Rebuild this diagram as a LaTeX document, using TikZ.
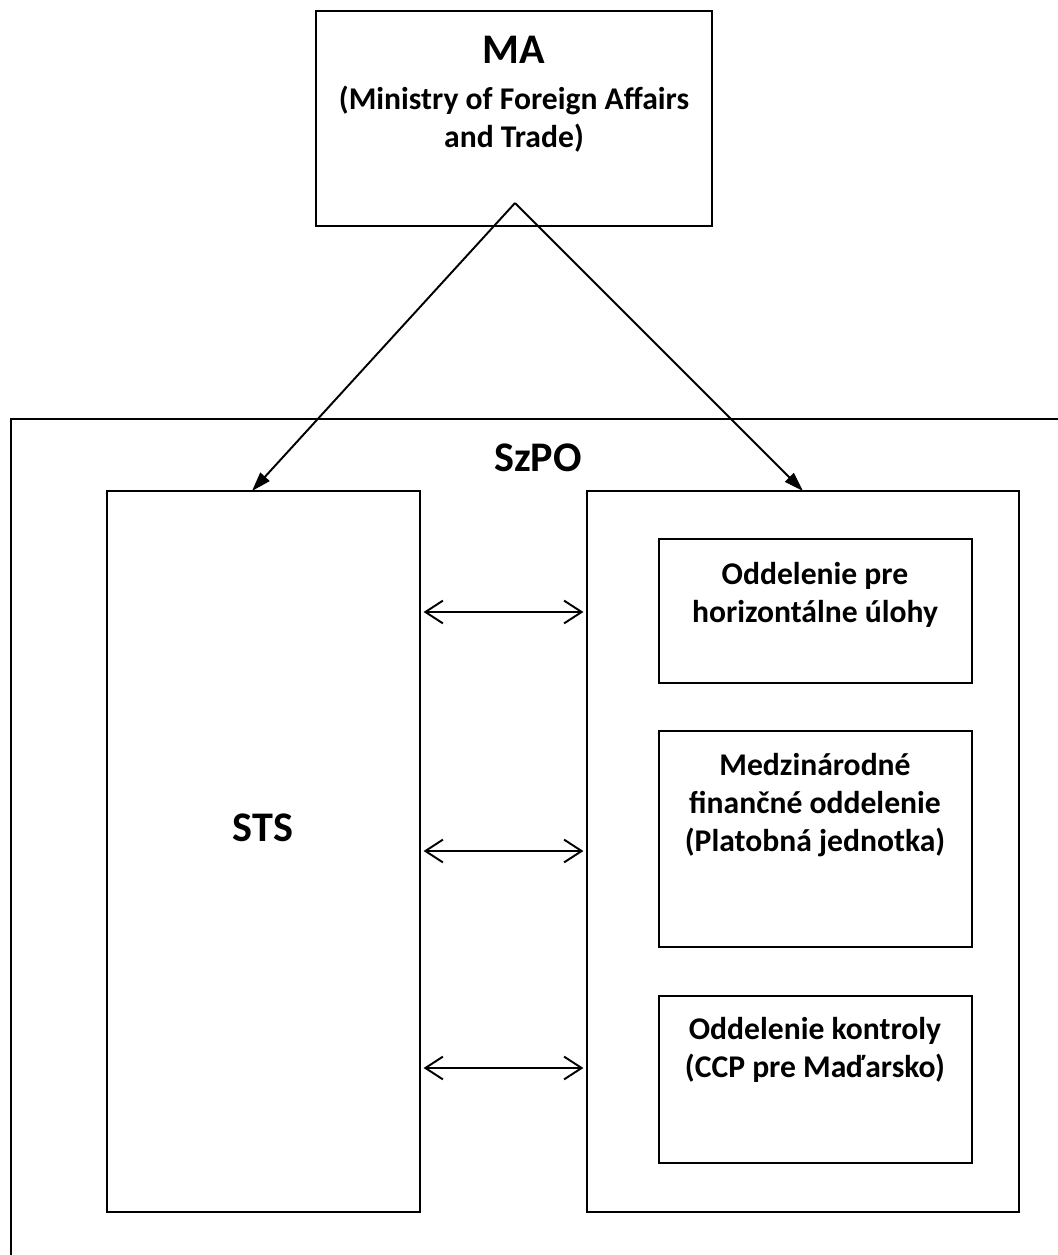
\documentclass[tikz,border=0pt]{standalone}
\usepackage{fontspec}
\setmainfont{Carlito}
\usetikzlibrary{arrows.meta,fit}

\begin{document}
\begin{tikzpicture}[x={(0.02cm,0)}, y={(0,-0.02cm)},
    box/.style={draw, line width=1.1pt, inner sep=0pt},
    bigtext/.style={font=\fontsize{24}{28}\selectfont\bfseries},
    smalltext/.style={font=\fontsize{18}{21.6}\selectfont\bfseries, align=center},
    down/.style={line width=1.1pt, -{Triangle[length=11pt,width=7pt]}},
    both/.style={line width=1.1pt, {Straight Barb[length=10pt,width=13pt]}-{Straight Barb[length=10pt,width=13pt]},
        shorten <=1.5pt, shorten >=1.5pt}]

    % Fix the size of the picture
    \useasboundingbox (0,0) rectangle (1058,1255);
    \clip (0,0) rectangle (1058,1255);

    % Box of the ministry at the top
    \node[box, fit={(316,11) (712,226)}] (ma) {};
    \node[bigtext] (maname) at (514,50) {MA};
    \node[smalltext] (mafull) at (514,119) {(Ministry of Foreign Affairs\\and Trade)};

    % Outer box, cut by the right and bottom edges
    \node[box, fit={(11,419) (1120,1320)}] (szpo) {};
    \node[bigtext] (szponame) at (538,458) {SzPO};

    % STS box on the left
    \node[box, fit={(107,491) (420,1212)}] (sts) {};
    \node[bigtext] (stsname) at (263,828) {STS};

    % Box of the departments on the right
    \node[box, fit={(587,491) (1019,1212)}] (org) {};

    % The three departments
    \node[box, fit={(659,539) (972,683)}] (dept1) {};
    \node[smalltext] (dept1name) at (815,595) {Oddelenie pre\\horizontálne úlohy};

    \node[box, fit={(659,731) (972,947)}] (dept2) {};
    \node[smalltext] (dept2name) at (815,805) {Medzinárodné\\finančné oddelenie\\(Platobná jednotka)};

    \node[box, fit={(659,996) (972,1163)}] (dept3) {};
    \node[smalltext] (dept3name) at (815,1050) {Oddelenie kontroly\\(CCP pre Maďarsko)};

    % Arrows from the ministry
    \coordinate (apex) at (515,203);
    \coordinate (stsin) at (252,491);
    \coordinate (orgin) at (803,491);
    \draw[down] (apex) -- (stsin);
    \draw[down] (apex) -- (orgin);

    % Arrows between STS and the departments
    \draw[both] (sts.east |- 0,612) -- (org.west |- 0,612);
    \draw[both] (sts.east |- 0,851) -- (org.west |- 0,851);
    \draw[both] (sts.east |- 0,1068) -- (org.west |- 0,1068);

\end{tikzpicture}
\end{document}
